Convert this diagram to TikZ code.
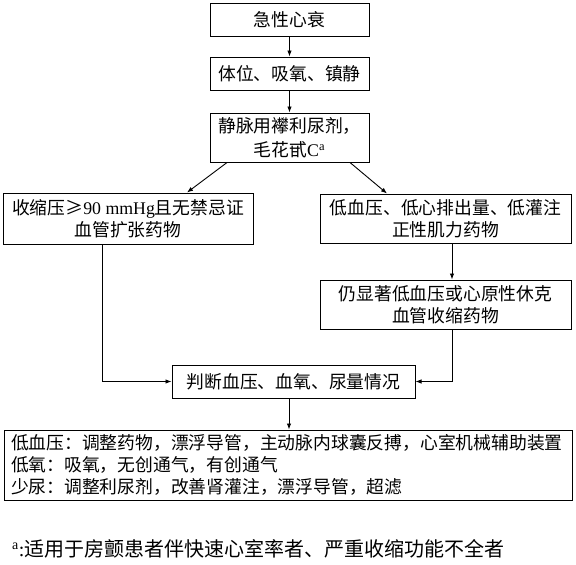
\documentclass[tikz,border=0pt]{standalone}
\usepackage{fontspec}
\setmainfont{Noto Sans CJK SC}
\newfontfamily\lat{Liberation Serif}
\usetikzlibrary{arrows.meta,calc}
\tikzset{
  box/.style={draw,line width=1pt,rectangle,inner sep=0pt,align=center,
    font={\fontsize{17.8}{22}\selectfont}},
  arr/.style={line width=0.9pt,-{Latex[length=6pt,width=4.5pt]}},
  ln/.style={line width=0.9pt}
}
\begin{document}
\begin{tikzpicture}[x=1pt,y=-1pt]
\useasboundingbox (0,0) rectangle (576,565);
\node[box,minimum width=159pt,minimum height=33pt] (b1) at (289.5,20) {急性心衰};
\node[box,minimum width=159pt,minimum height=33pt] (b2) at (289.5,73.5) {体位、吸氧、镇静};
\node[box,minimum width=159pt,minimum height=49pt,font={\fontsize{17.8}{24}\selectfont}] (b3) at (289.5,137.5) {静脉用襻利尿剂，\\毛花甙{\lat C}\textsuperscript{\lat a}};
\node[box,minimum width=250pt,minimum height=51pt] (b4) at (128,218.5) {收缩压≥{\lat 90 mmHg}且无禁忌证\\血管扩张药物};
\node[box,minimum width=251pt,minimum height=49pt] (b5) at (445.5,218.5) {低血压、低心排出量、低灌注\\正性肌力药物};
\node[box,minimum width=251pt,minimum height=49pt] (b6) at (445.5,304.5) {仍显著低血压或心原性休克\\血管收缩药物};
\node[box,minimum width=243pt,minimum height=33pt] (b7) at (293.5,381.5) {判断血压、血氧、尿量情况};
\node[box,minimum width=568pt,minimum height=70pt,text width=554pt,align=left] (b8) at (288,465) {低血压：调整药物，漂浮导管，主动脉内球囊反搏，心室机械辅助装置\\低氧：吸氧，无创通气，有创通气\\少尿：调整利尿剂，改善肾灌注，漂浮导管，超滤};
\node[anchor=west,inner sep=0pt,font={\fontsize{20}{22}\selectfont}] (fn) at (12,549) {\textsuperscript{\lat a}{\lat :}适用于房颤患者伴快速心室率者、严重收缩功能不全者};
\draw[arr] (b1) -- (b2);
\draw[arr] (b2) -- (b3);
\draw[arr] ([xshift=-62.5pt]b3.south) -- ([xshift=59pt]b4.north);
\draw[arr] ([xshift=60.5pt]b3.south) -- ([xshift=-58.5pt]b5.north);
\draw[arr] ([xshift=6.5pt]b5.south) -- ([xshift=6.5pt]b6.north);
\draw[arr] ([xshift=-26pt]b4.south) |- (b7.west);
\draw[arr] ([xshift=6.5pt]b6.south) |- (b7.east);
\draw[arr] ([xshift=-4.5pt]b7.south) -- ([xshift=1pt]b8.north);
\end{tikzpicture}
\end{document}
